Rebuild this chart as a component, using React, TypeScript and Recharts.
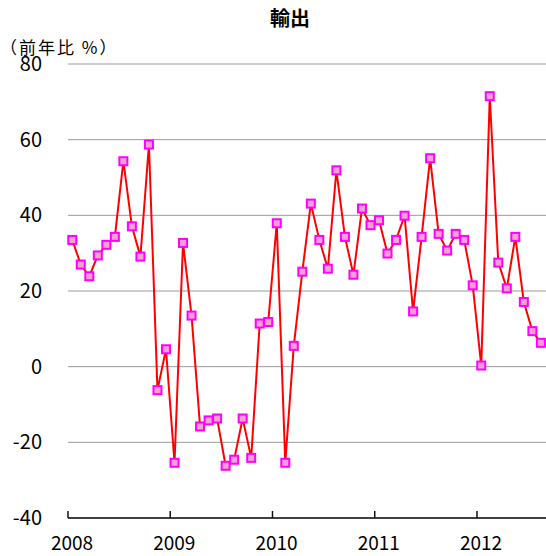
import { CartesianGrid, Line, LineChart, XAxis, YAxis } from "recharts";

// 輸出（前年比 %）, monthly from Jan 2008 to Aug 2012
const years = ["2008", "2009", "2010", "2011", "2012"];
const exportGrowth = [
    33.5, 27.0, 23.9, 29.4, 32.2, 34.3, 54.3, 37.1, 29.1, 58.7, -6.2, 4.6,
    -25.4, 32.7, 13.5, -15.8, -14.2, -13.7, -26.2, -24.6, -13.7, -24.1, 11.4, 11.8,
    37.9, -25.4, 5.5, 25.1, 43.1, 33.5, 25.9, 51.9, 34.3, 24.3, 41.8, 37.4,
    38.7, 29.9, 33.5, 39.9, 14.6, 34.3, 55.1, 35.1, 30.7, 35.1, 33.5, 21.5,
    0.3, 71.5, 27.5, 20.7, 34.3, 17.1, 9.4, 6.3
];
const yTicks = [-40, -20, 0, 20, 40, 60, 80];

const chartData = exportGrowth.map((v, i) => ({ month: i, value: v }));
// year ticks sit at the start of each January
const yearTicks = years.map((_, k) => k * 12 - 0.5);

const font = "'Noto Sans CJK JP', 'Noto Sans', sans-serif";

function SquareDot(props: any) {
    const { cx, cy, index } = props;
    if (cx == null || cy == null) return null;
    return (
        <rect
            key={`dot-${index}`}
            x={cx - 4}
            y={cy - 4}
            width={8}
            height={8}
            fill="#f7a1d3"
            stroke="#ff00ff"
            strokeWidth={2}
        />
    );
}

export default function App() {
    return (
        <div style={{ position: "absolute", left: 0, top: 0, width: 546, height: 556, background: "#fff", fontFamily: font }}>
            <div style={{ position: "absolute", left: 240, width: 100, top: 4, textAlign: "center", fontSize: 20, fontWeight: 700, lineHeight: "28px" }}>
                輸出
            </div>
            <div style={{ position: "absolute", left: 0, top: 40, fontSize: 17, letterSpacing: 2, lineHeight: "14px" }}>
                （前年比 %）
            </div>
            <LineChart width={546} height={556} data={chartData} margin={{ top: 64, right: 0, bottom: 0, left: 0 }}>
                <CartesianGrid vertical={false} stroke="#9a9a9a" />
                <XAxis
                    dataKey="month"
                    type="number"
                    domain={[-0.5, 55.6]}
                    ticks={yearTicks}
                    tickFormatter={(v: number) => years[Math.round((v + 0.5) / 12)]}
                    height={38}
                    axisLine={{ stroke: "#111", strokeWidth: 1.5 }}
                    tickLine={{ stroke: "#111", strokeWidth: 1.5 }}
                    tickSize={-7}
                    tickMargin={26}
                    tick={{ fontSize: 19, fill: "#000", fontFamily: font, dx: 4 }}
                    interval={0}
                />
                <YAxis
                    domain={[-40, 80]}
                    ticks={yTicks}
                    width={68}
                    axisLine={false}
                    tickLine={false}
                    tickSize={0}
                    tickMargin={26}
                    tick={{ fontSize: 20, fill: "#000", fontFamily: font }}
                    interval={0}
                />
                <Line
                    dataKey="value"
                    stroke="#ff0000"
                    strokeWidth={2}
                    dot={SquareDot}
                    activeDot={false}
                    isAnimationActive={false}
                />
            </LineChart>
        </div>
    );
}
